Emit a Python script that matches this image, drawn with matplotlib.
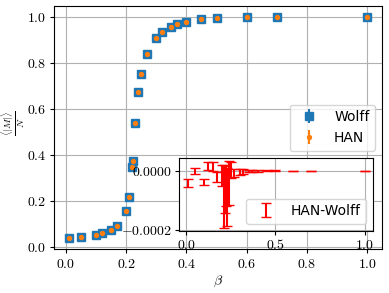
import numpy as np
import matplotlib
matplotlib.use('Agg')
import matplotlib.pyplot as plt
from matplotlib.ticker import FormatStrFormatter

plt.rcParams['mathtext.fontset'] = 'cm'
plt.rcParams['xtick.major.size'] = 3
plt.rcParams['ytick.major.size'] = 3
plt.rcParams['xtick.major.pad'] = 2.5
plt.rcParams['ytick.major.pad'] = 2.5

beta = [0.01, 0.05, 0.10, 0.12, 0.15, 0.17, 0.20, 0.21, 0.218, 0.221, 0.228, 0.24,
        0.25, 0.27, 0.30, 0.32, 0.35, 0.37, 0.40, 0.45, 0.50, 0.60, 0.70, 1.00]
m_wolff = [0.036, 0.042, 0.050, 0.058, 0.072, 0.090, 0.155, 0.216, 0.345, 0.374, 0.536, 0.674,
           0.750, 0.839, 0.907, 0.933, 0.958, 0.970, 0.980, 0.989, 0.994, 0.998, 0.999, 1.000]
err_wolff = [1e-5, 1e-5, 1e-5, 1e-5, 1.2e-5, 1.2e-5, 2.5e-5, 7e-5, 5e-5, 5e-5, 7e-5, 5e-5,
             2e-5, 1e-5, 7e-6, 6e-6, 4e-6, 3e-6, 2e-6, 1.5e-6, 1e-6, 5e-7, 3e-7, 1e-7]
# HAN - Wolff difference shown in the inset
diff = [-4.2e-5, -0.2e-5, -3.9e-5, 1.6e-5, 1.5e-5, -2.0e-5, -1.7e-5, -8.7e-5, -7.2e-5, -5.2e-5, -9.0e-5, -4.1e-5,
        0.2e-5, -0.8e-5, -0.4e-5, -0.3e-5, -0.1e-5, -0.1e-5, 0.0, 0.0, 0.0, 0.0, 0.0, 0.0]
diff_err = [1.45e-5, 1.0e-5, 1.1e-5, 1.3e-5, 1.6e-5, 1.7e-5, 3.6e-5, 10.6e-5, 7.1e-5, 6.7e-5, 9.8e-5, 7.4e-5,
            2.7e-5, 1.3e-5, 1.0e-5, 0.8e-5, 0.5e-5, 0.4e-5, 0.3e-5, 0.2e-5, 0.1e-5, 0.05e-5, 0.03e-5, 0.01e-5]
err_han = [1e-5, 1e-5, 1e-5, 1e-5, 1.2e-5, 1.2e-5, 2.5e-5, 7e-5, 5e-5, 5e-5, 7e-5, 5e-5,
           2e-5, 1e-5, 7e-6, 6e-6, 4e-6, 3e-6, 2e-6, 1.5e-6, 1e-6, 5e-7, 3e-7, 1e-7]

m_han = np.array(m_wolff) + np.array(diff)

fig = plt.figure(figsize=(3.89, 2.93), dpi=100)
ax = fig.add_axes([0.139, 0.149, 0.843, 0.831])
ax.errorbar(beta, m_wolff, yerr=err_wolff, fmt='s', color='C0', ms=5.5, label='Wolff')
ax.errorbar(beta, m_han, yerr=err_han, fmt='o', color='C1', ms=2.8, label='HAN')
ax.grid(True)
ax.set_xticks([0.0, 0.2, 0.4, 0.6, 0.8, 1.0])
ax.set_yticks([0.0, 0.2, 0.4, 0.6, 0.8, 1.0])
ax.xaxis.set_major_formatter(FormatStrFormatter('$%.1f$'))
ax.yaxis.set_major_formatter(FormatStrFormatter('$%.1f$'))
ax.tick_params(labelsize=10)
ax.set_xlabel(r'$\beta$', fontsize=10, labelpad=2)
ax.set_ylabel(r'$\frac{\langle |M| \rangle}{N}$', fontsize=10)
ax.yaxis.set_label_coords(-0.083, 0.52)
ax.legend(loc='center right')

ins = fig.add_axes([0.461, 0.2126, 0.499, 0.247])
ins.errorbar(beta, diff, yerr=diff_err, fmt='none', ecolor='red', capsize=3.5, label='HAN-Wolff')
ins.grid(True)
ins.set_ylim(-0.000203, 0.0000418)
ins.set_xticks([0.0, 0.5, 1.0])
ins.set_yticks([-0.0002, 0.0])
ins.xaxis.set_major_formatter(FormatStrFormatter('$%.1f$'))
ins.yaxis.set_major_formatter(FormatStrFormatter('$%.4f$'))
ins.tick_params(labelsize=10)
ins.legend(loc='lower right')

fig.savefig('out.png', dpi=100)
